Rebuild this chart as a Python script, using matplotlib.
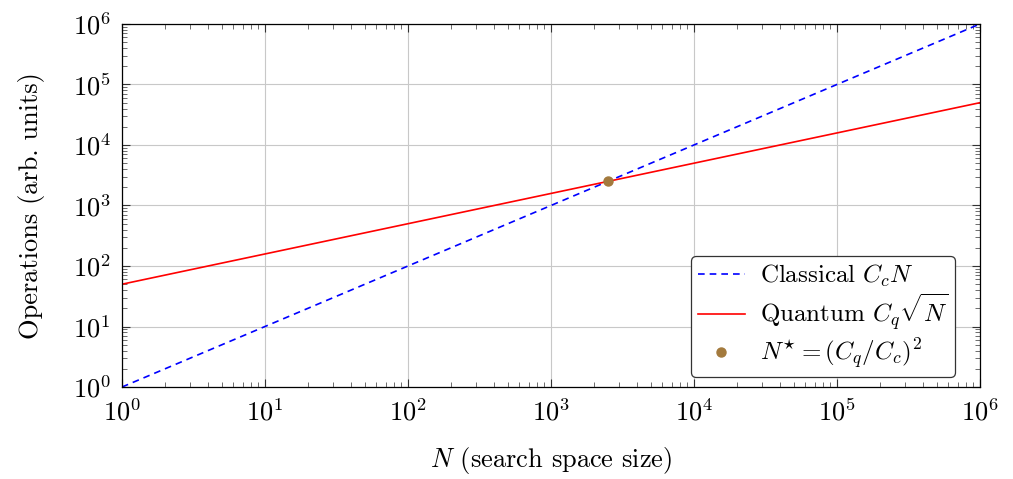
import matplotlib
matplotlib.use("Agg")
import matplotlib.pyplot as plt
from matplotlib.ticker import LogLocator

# values
n_vals = [1e0, 1e6]
classical_ops = [1e0, 1e6]
quantum_ops = [5e1, 5e4]
n_star = [2.5e3]
ops_star = [2.5e3]

plt.rcParams["font.family"] = "serif"
plt.rcParams["font.serif"] = ["cmr10"]
plt.rcParams["mathtext.fontset"] = "cm"
plt.rcParams["axes.formatter.use_mathtext"] = True
plt.rcParams["font.size"] = 19

fig = plt.figure(figsize=(10.13, 4.79), dpi=100)
ax = fig.add_axes([0.1204, 0.192, 0.847, 0.758])

ax.plot(n_vals, classical_ops, color="#0000ff", linestyle=(0, (4, 3)), lw=1.2,
        label=r"Classical $C_cN$")
ax.plot(n_vals, quantum_ops, color="#ff0000", lw=1.2,
        label=r"Quantum $C_q\sqrt{N}$")
ax.plot(n_star, ops_star, "o", color="#a37a3d", markersize=6.5, linestyle="none",
        label=r"$N^{\star} = (C_q/C_c)^2$", zorder=5)

ax.set_xscale("log")
ax.set_yscale("log")
ax.set_xlim(1, 1e6)
ax.set_ylim(1, 1e6)

for axis in (ax.xaxis, ax.yaxis):
    axis.set_major_locator(LogLocator(base=10, numticks=10))
    axis.set_minor_locator(LogLocator(base=10, subs=range(2, 10), numticks=100))

ax.tick_params(which="both", direction="in", top=True, right=True, color="#333333")
ax.tick_params(which="major", length=6, width=0.8, pad=8)
ax.tick_params(which="minor", length=3.5, width=0.5)
ax.grid(True, which="major", color="#c8c8c8", lw=0.8)
ax.set_axisbelow(True)

ax.set_xlabel(r"$N$ (search space size)", labelpad=14)
ax.set_ylabel("Operations (arb. units)", labelpad=20)

leg = ax.legend(loc="lower right", bbox_to_anchor=(0.971, 0.028), borderaxespad=0,
                fancybox=True, framealpha=1, edgecolor="#333333", handlelength=1.9,
                borderpad=0.25, labelspacing=0.12, handletextpad=0.6, fontsize=18)
leg.get_frame().set_linewidth(0.9)

for spine in ax.spines.values():
    spine.set_linewidth(0.9)

fig.savefig("out.png", dpi=100)
